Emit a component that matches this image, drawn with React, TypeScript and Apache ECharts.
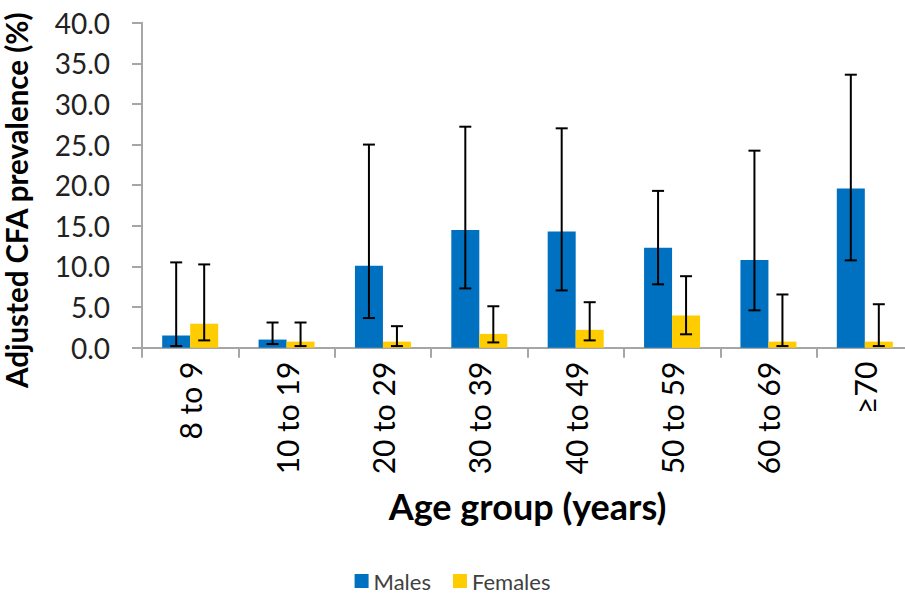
import React, { useEffect, useRef } from "react";
import * as echarts from "echarts";

const categories = ["8 to 9", "10 to 19", "20 to 29", "30 to 39", "40 to 49", "50 to 59", "60 to 69", "≥70"];
const malesValues = [1.5, 1.0, 10.1, 14.5, 14.3, 12.3, 10.8, 19.6];
const malesLower = [0.2, 0.45, 3.65, 7.3, 7.05, 7.8, 4.6, 10.75];
const malesUpper = [10.5, 3.1, 25.0, 27.2, 27.0, 19.3, 24.25, 33.6];
const femalesValues = [2.95, 0.75, 0.75, 1.7, 2.2, 3.95, 0.75, 0.75];
const femalesLower = [0.9, 0.2, 0.2, 0.65, 0.9, 1.65, 0.2, 0.2];
const femalesUpper = [10.25, 3.1, 2.65, 5.1, 5.6, 8.8, 6.55, 5.35];
const yTicks = { min: 0, max: 40, interval: 5 };

const FONT = "Lato";

function errorSeries(name: string, lower: number[], upper: number[], offset: number) {
  return {
    type: "custom",
    name: name + " CI",
    silent: true,
    z: 10,
    data: categories.map((_, i) => [i, lower[i], upper[i]]),
    renderItem: (params: any, api: any) => {
      const idx = api.value(0);
      const lo = api.coord([idx, api.value(1)]);
      const hi = api.coord([idx, api.value(2)]);
      const x = lo[0] + offset;
      const cap = 6;
      const style = { stroke: "#000000", lineWidth: 2 };
      return {
        type: "group",
        children: [
          { type: "line", shape: { x1: x, y1: lo[1], x2: x, y2: hi[1] }, style },
          { type: "line", shape: { x1: x - cap, y1: lo[1], x2: x + cap, y2: lo[1] }, style },
          { type: "line", shape: { x1: x - cap, y1: hi[1], x2: x + cap, y2: hi[1] }, style },
        ],
      };
    },
  };
}

export default function App() {
  const ref = useRef<HTMLDivElement>(null);
  useEffect(() => {
    if (!ref.current) return;
    const chart = echarts.init(ref.current, undefined, { renderer: "svg" });
    chart.setOption({
      animation: false,
      backgroundColor: "#ffffff",
      textStyle: { fontFamily: FONT },
      grid: { left: 142, right: -8, top: 22.7, bottom: 251.3, containLabel: false, outerBoundsMode: "none" },
      legend: {
        data: ["Males", "Females"],
        bottom: 2,
        left: "center",
        icon: "rect",
        itemWidth: 14,
        itemHeight: 14,
        itemGap: 22,
        textStyle: { fontFamily: FONT, fontSize: 22, color: "#404040" },
      },
      xAxis: {
        type: "category",
        data: categories,
        axisLine: { lineStyle: { color: "#a6a6a6", width: 2 } },
        axisTick: { show: true, length: 10, interval: 0, lineStyle: { color: "#a6a6a6", width: 2 } },
        axisLabel: { rotate: 90, interval: 0, margin: 14, fontSize: 30, color: "#000000", fontFamily: FONT },
        name: "Age group (years)",
        nameLocation: "middle",
        nameGap: 140,
        nameTextStyle: { fontSize: 36, fontWeight: "bold", color: "#000000", fontFamily: FONT },
      },
      yAxis: {
        type: "value",
        min: yTicks.min,
        max: yTicks.max,
        interval: yTicks.interval,
        splitLine: { show: false },
        axisLine: { show: true, lineStyle: { color: "#a6a6a6", width: 2 } },
        axisTick: { show: true, length: 10, lineStyle: { color: "#a6a6a6", width: 2 } },
        axisLabel: { margin: 32, fontSize: 28, color: "#222222", fontFamily: FONT, formatter: (v: number) => v.toFixed(1) },
        name: "Adjusted CFA prevalence (%)",
        nameLocation: "middle",
        nameGap: 111,
        nameTextStyle: { fontSize: 29.5, fontWeight: "bold", color: "#000000", fontFamily: FONT, padding: [0, 30, 0, 0] },
      },
      series: [
        {
          name: "Males",
          type: "bar",
          data: malesValues,
          barWidth: 28,
          barGap: "0%",
          itemStyle: { color: "#0070C0" },
        },
        {
          name: "Females",
          type: "bar",
          data: femalesValues,
          barWidth: 28,
          barGap: "0%",
          itemStyle: { color: "#FFCC00" },
        },
        errorSeries("Males", malesLower, malesUpper, -14),
        errorSeries("Females", femalesLower, femalesUpper, 14),
      ],
    });
    return () => chart.dispose();
  }, []);
  return <div ref={ref} style={{ width: 905, height: 599, position: "absolute", left: 0, top: 0 }} />;
}
